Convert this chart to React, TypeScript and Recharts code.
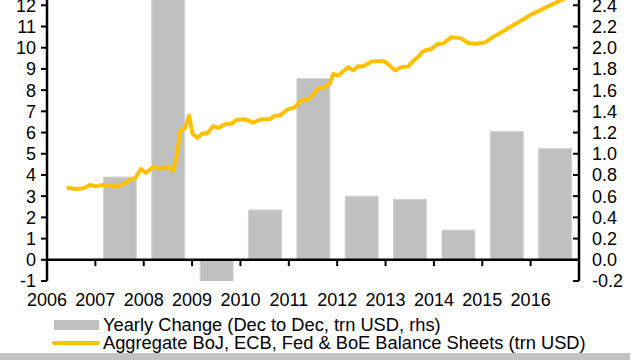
import React from "react";
import {
  ComposedChart,
  Bar,
  Line,
  XAxis,
  YAxis,
  ReferenceLine,
  Legend,
} from "recharts";

// yearly change of the aggregate balance sheets (trn USD, rhs), bar drawn mid-year
const barYears = [2007, 2008, 2009, 2010, 2011, 2012, 2013, 2014, 2015, 2016];
const yearlyChange = [0.78, 2.6, -0.21, 0.47, 1.71, 0.6, 0.57, 0.28, 1.21, 1.05];

// aggregate BoJ, ECB, Fed & BoE balance sheets (trn USD, lhs)
const lineTime = [
  2006.44, 2006.61, 2006.75, 2006.89, 2007.03, 2007.16, 2007.44, 2007.61, 2007.71, 2007.82,
  2007.94, 2008.05, 2008.2, 2008.3, 2008.51, 2008.61, 2008.69, 2008.76, 2008.85, 2008.94,
  2009.01, 2009.11, 2009.22, 2009.3, 2009.44, 2009.54, 2009.71, 2009.82, 2009.92, 2010.09,
  2010.26, 2010.44, 2010.61, 2010.71, 2010.81, 2010.97, 2011.12, 2011.26, 2011.43, 2011.6,
  2011.71, 2011.85, 2011.92, 2012.02, 2012.23, 2012.33, 2012.43, 2012.54, 2012.71, 2012.95,
  2013.05, 2013.19, 2013.33, 2013.47, 2013.57, 2013.67, 2013.78, 2013.95, 2014.09, 2014.19,
  2014.36, 2014.57, 2014.71, 2014.84, 2015.05, 2015.22, 2015.63, 2016.05, 2016.63, 2016.95,
];
const lineLevel = [
  3.39, 3.34, 3.37, 3.53, 3.46, 3.54, 3.46, 3.59, 3.78, 3.84,
  4.28, 4.1, 4.39, 4.31, 4.36, 4.2, 4.99, 6.09, 6.2, 6.8,
  5.94, 5.75, 5.97, 5.94, 6.3, 6.22, 6.41, 6.41, 6.6, 6.63,
  6.47, 6.63, 6.63, 6.79, 6.8, 7.08, 7.19, 7.51, 7.59, 8.06,
  8.11, 8.3, 8.77, 8.69, 9.08, 8.93, 9.13, 9.13, 9.35, 9.37,
  9.24, 8.93, 9.08, 9.12, 9.37, 9.56, 9.84, 9.95, 10.19, 10.19,
  10.5, 10.43, 10.22, 10.19, 10.24, 10.5, 11.05, 11.61, 12.24, 12.6,
];

const xTicks = [2006, 2007, 2008, 2009, 2010, 2011, 2012, 2013, 2014, 2015, 2016];
const leftTicks = [-1, 0, 1, 2, 3, 4, 5, 6, 7, 8, 9, 10, 11, 12];
const rightTicks = [-0.2, 0, 0.2, 0.4, 0.6, 0.8, 1.0, 1.2, 1.4, 1.6, 1.8, 2.0, 2.2, 2.4];

const legendLabels = [
  "Yearly Change (Dec to Dec, trn USD, rhs)",
  "Aggregate BoJ, ECB, Fed & BoE Balance Sheets (trn USD)",
];

const FONT = "'Liberation Sans', Arial, sans-serif";
const GOLD = "#ffc000";
const GREY = "#c0c0c0";
const BAR_W = 33;

const barRows = barYears.map((y, i) => ({ t: y + 0.5, change: yearlyChange[i] }));
const lineRows = lineTime.map((t, i) => ({ t, level: lineLevel[i] }));

// keep bar width fixed and centred on the slot recharts hands us
const BarShape = (p: any) => {
  const cx = p.x + p.width / 2;
  const top = Math.min(p.y, p.y + p.height);
  const h = Math.abs(p.height);
  return <rect x={cx - BAR_W / 2} y={top} width={BAR_W} height={h} fill={GREY} stroke="#d4d4d4" strokeWidth={1} />;
};

const RightTick = (props: any) => {
  const { x, y, payload } = props;
  return (
    <g>
      <line x1={x - 13} x2={x - 19} y1={y} y2={y} stroke="#000" strokeWidth={2} />
      <text x={x} y={y} dy="0.36em" textAnchor="start" fontSize={18} fontFamily={FONT} fill="#000">
        {Number(payload.value).toFixed(1)}
      </text>
    </g>
  );
};

const LegendBox = () => (
  <div style={{ fontFamily: FONT, fontSize: 18.3, color: "#000", paddingTop: 3, height: 36 }}>
    <div style={{ display: "flex", alignItems: "center", height: 18 }}>
      <div style={{ marginLeft: 54, width: 45, height: 10, background: GREY }} />
      <span style={{ marginLeft: 4, whiteSpace: "nowrap" }}>{legendLabels[0]}</span>
    </div>
    <div style={{ display: "flex", alignItems: "center", height: 18 }}>
      <div style={{ marginLeft: 52, width: 48, height: 4, borderRadius: 2, background: GOLD }} />
      <span style={{ marginLeft: 3, whiteSpace: "nowrap" }}>{legendLabels[1]}</span>
    </div>
  </div>
);

export default function App() {
  return (
    <div style={{ position: "absolute", left: 0, top: 0, width: 640, height: 360, background: "#fff" }}>
      <ComposedChart
        width={640}
        height={360}
        data={barRows}
        margin={{ top: 0, right: 0, bottom: 8, left: 0 }}
      >
        <XAxis xAxisId="bars" dataKey="t" type="number" domain={[2006, 2017]} height={0} hide />
        <XAxis
          xAxisId="x"
          dataKey="t"
          type="number"
          domain={[2006, 2017]}
          ticks={xTicks}
          axisLine={false}
          tickLine={false}
          tickSize={0}
          tickMargin={12}
          height={32}
          tick={{ fontSize: 18, fontFamily: FONT, fill: "#000" }}
        />
        <YAxis
          yAxisId="left"
          orientation="left"
          domain={[-1, 12.25]}
          ticks={leftTicks}
          allowDataOverflow
          width={47}
          interval={0}
          axisLine={{ stroke: "#000", strokeWidth: 2.5 }}
          tickLine={{ stroke: "#000", strokeWidth: 2 }}
          tickSize={6}
          tickMargin={5}
          tick={{ fontSize: 18, fontFamily: FONT, fill: "#000" }}
        />
        <YAxis
          yAxisId="right"
          orientation="right"
          domain={[-0.2, 2.45]}
          ticks={rightTicks}
          allowDataOverflow
          width={61}
          interval={0}
          axisLine={{ stroke: "#000", strokeWidth: 2.5 }}
          tickLine={false}
          tickSize={0}
          tickMargin={13}
          tick={<RightTick />}
        />
        <Legend verticalAlign="bottom" align="left" layout="horizontal" content={<LegendBox />} />
        <Bar
          xAxisId="bars"
          yAxisId="right"
          dataKey="change"
          fill={GREY}
          barSize={BAR_W}
          shape={<BarShape />}
          isAnimationActive={false}
        />
        <ReferenceLine xAxisId="x" yAxisId="left" y={0} stroke="#000" strokeWidth={2.5} />
        {xTicks.map((yr) => (
          <ReferenceLine
            key={yr}
            xAxisId="x"
            yAxisId="left"
            segment={[
              { x: yr, y: 0 },
              { x: yr, y: -0.3 },
            ]}
            stroke="#000"
            strokeWidth={2}
          />
        ))}
        <Line
          xAxisId="x"
          yAxisId="left"
          data={lineRows}
          dataKey="level"
          type="linear"
          stroke={GOLD}
          strokeWidth={4}
          strokeLinejoin="round"
          strokeLinecap="round"
          dot={false}
          isAnimationActive={false}
        />
      </ComposedChart>
      <div style={{ position: "absolute", left: 0, top: 353, width: 630, height: 7, background: "#c3c3c3" }} />
    </div>
  );
}
